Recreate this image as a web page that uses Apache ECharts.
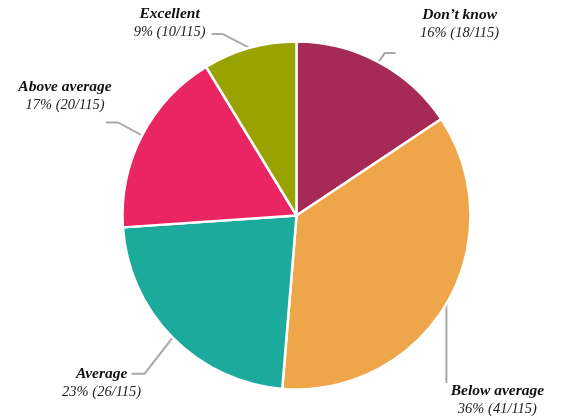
<!DOCTYPE html>
<html>
<head>
<meta charset="utf-8">
<script src="https://cdn.jsdelivr.net/npm/echarts@6/dist/echarts.min.js"></script>
<style>
  html, body { margin: 0; padding: 0; background: #ffffff; }
  #chart { width: 561px; height: 419px; }
</style>
</head>
<body>
<div id="chart"></div>
<script>
// Survey answers, clockwise from 12 o'clock
const categories = ['Don\u2019t know', 'Below average', 'Average', 'Above average', 'Excellent'];
const counts = [18, 41, 26, 20, 10];
const colors = ['#A52A56', '#EFA54A', '#1BAA9C', '#E92661', '#98A201'];

const total = counts.reduce((a, b) => a + b, 0);

const PIE_CX = 296.5;
const PIE_CY = 215.5;
const PIE_R = 174;

// Leader-line bend, line end and text centre, each relative to the slice anchor
const calloutStyle = [
  { bend: [6, -9],   end: [17, -9],  text: [81, -38] },
  { bend: [0, 40],   end: [0, 79],   text: [51, 96] },
  { bend: [-28, 36], end: [-41, 36], text: [-71, 45] },
  { bend: [-24, -13], end: [-36, -13], text: [-77, -39] },
  { bend: [-27, -14], end: [-38, -14], text: [-80, -25] }
];

const chart = echarts.init(document.getElementById('chart'), null, { renderer: 'canvas' });

chart.setOption({
  animation: false,
  backgroundColor: '#ffffff',
  series: [{
    type: 'pie',
    center: [PIE_CX, PIE_CY],
    radius: PIE_R,
    startAngle: 90,
    clockwise: true,
    avoidLabelOverlap: false,
    itemStyle: { borderColor: '#ffffff', borderWidth: 2.5 },
    label: {
      show: true,
      position: 'outside',
      formatter: p => '{b|' + p.name + '}\n{c|' + Math.round(p.value / total * 100) + '% (' + p.value + '/' + total + ')}',
      rich: {
        b: { fontFamily: 'Liberation Serif', fontStyle: 'italic', fontWeight: 'bold', fontSize: 15.5, color: '#111111', lineHeight: 18, align: 'center' },
        c: { fontFamily: 'Liberation Serif', fontStyle: 'italic', fontSize: 14.5, color: '#222222', lineHeight: 18, align: 'center' }
      }
    },
    labelLine: {
      show: true,
      length: 10,
      length2: 10,
      lineStyle: { color: '#aaaaaa', width: 2 }
    },
    labelLayout: function (params) {
      const s = calloutStyle[params.dataIndex];
      // anchor on the rim of the slice, at its mid-angle
      const p0 = params.labelLinePoints[0];
      const dx = p0[0] - PIE_CX;
      const dy = p0[1] - PIE_CY;
      const len = Math.sqrt(dx * dx + dy * dy);
      const a = [PIE_CX + dx / len * PIE_R, PIE_CY + dy / len * PIE_R];
      return {
        x: a[0] + s.text[0],
        y: a[1] + s.text[1],
        align: 'center',
        verticalAlign: 'middle',
        labelLinePoints: [
          [a[0], a[1]],
          [a[0] + s.bend[0], a[1] + s.bend[1]],
          [a[0] + s.end[0], a[1] + s.end[1]]
        ]
      };
    },
    data: categories.map((name, i) => ({
      name: name,
      value: counts[i],
      itemStyle: { color: colors[i] }
    }))
  }]
});
</script>
</body>
</html>
